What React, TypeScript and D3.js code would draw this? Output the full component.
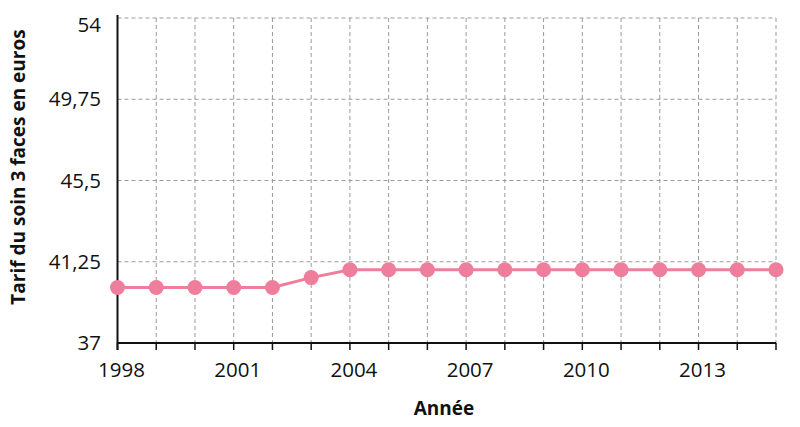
import React from "react";
import * as d3 from "d3";

const years = [1998, 1999, 2000, 2001, 2002, 2003, 2004, 2005, 2006, 2007, 2008, 2009, 2010, 2011, 2012, 2013, 2014, 2015];
const values = [39.9, 39.9, 39.9, 39.9, 39.9, 40.42, 40.83, 40.83, 40.83, 40.83, 40.83, 40.83, 40.83, 40.83, 40.83, 40.83, 40.83, 40.83];
const yTicks = [37, 41.25, 45.5, 49.75, 54];
const xTickLabels = [1998, 2001, 2004, 2007, 2010, 2013];
const yTitle = "Tarif du soin 3 faces en euros";
const xTitle = "Année";

const W = 800, H = 427;
const left = 117.5, right = 776, top = 18, bottom = 343;
const font = "'Open Sans', 'Noto Sans', sans-serif";
const pink = "#ef7d9c";
const fs = 19;
const tfs = 20.5;

export default function App() {
  const x = d3.scaleLinear().domain([1998, 2015]).range([left, right]);
  const y = d3.scaleLinear().domain([37, 54]).range([bottom, top]);
  const line = d3.line<number>().x((_, i) => x(years[i])).y((d) => y(d));
  const fmt = (v: number) => String(v).replace(".", ",");
  return (
    <svg width={W} height={H} style={{ position: "absolute", left: 0, top: 0, background: "#fff" }}>
      {yTicks.filter((t) => t !== 37).map((t) => (
        <line key={"h" + t} x1={left} x2={right} y1={y(t)} y2={y(t)} stroke="#9a9a9a" strokeWidth={1} strokeDasharray="4,3" />
      ))}
      {years.slice(1).map((yr) => (
        <line key={"v" + yr} x1={x(yr)} x2={x(yr)} y1={top} y2={bottom} stroke="#9a9a9a" strokeWidth={1} strokeDasharray="4,3" />
      ))}
      <line x1={left} x2={left} y1={15} y2={bottom + 7} stroke="#111" strokeWidth={2} />
      <line x1={left} x2={right} y1={bottom} y2={bottom} stroke="#111" strokeWidth={2} />
      {years.map((yr) => (
        <line key={"t" + yr} x1={x(yr)} x2={x(yr)} y1={bottom} y2={bottom + 7} stroke="#111" strokeWidth={1.5} />
      ))}
      {yTicks.map((t) => (
        <text key={"yl" + t} x={101} y={t === 54 ? y(t) + 7 : y(t)} dy="0.35em" textAnchor="end" fontFamily={font} fontSize={tfs} fill="#111">
          {fmt(t)}
        </text>
      ))}
      {xTickLabels.map((t) => (
        <text key={"xl" + t} x={x(t) + 4} y={377} textAnchor="middle" fontFamily={font} fontSize={tfs} fill="#111">
          {t}
        </text>
      ))}
      <path d={line(values) || ""} fill="none" stroke={pink} strokeWidth={3} />
      {values.map((v, i) => (
        <circle key={"c" + i} cx={x(years[i])} cy={y(v)} r={7.5} fill={pink} />
      ))}
      <text x={444} y={415} textAnchor="middle" fontFamily={font} fontSize={fs} fontWeight="bold" fill="#111">{xTitle}</text>
      <text transform={`translate(18,${167}) rotate(-90)`} textAnchor="middle" dy="0.35em" fontFamily={font} fontSize={fs} fontWeight="bold" fill="#111">{yTitle}</text>
    </svg>
  );
}
